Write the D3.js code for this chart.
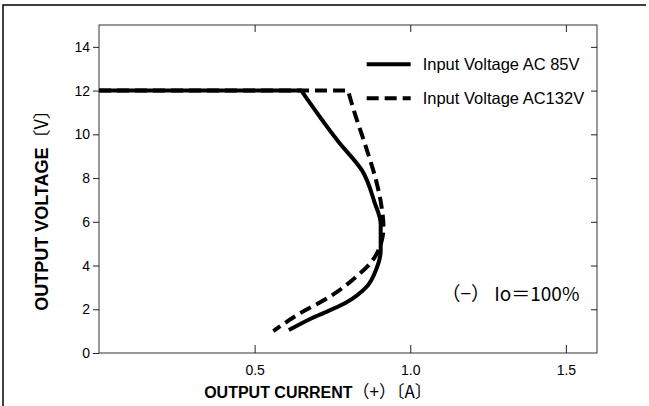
<!DOCTYPE html>
<html>
<head>
<meta charset="utf-8">
<script src="https://cdn.jsdelivr.net/npm/d3@7"></script>
<style>
  body { margin: 0; background: #fff; }
  text { font-family: "Liberation Sans", Arial, sans-serif; fill: #000; }
</style>
</head>
<body>
<div id="chart"></div>
<script>
// data
let xTicks = [0.5, 1.0, 1.5]
let xTickLabels = ['0.5', '1.0', '1.5']
let yTicks = [0, 2, 4, 6, 8, 10, 12, 14]

let ac85Current = [0, 0.65, 0.77, 0.845, 0.885, 0.905, 0.905, 0.89, 0.858, 0.79, 0.685, 0.61]
let ac85Voltage = [12, 12, 9.65, 8.35, 6.9, 5.9, 4.7, 3.8, 3.0, 2.27, 1.6, 1.05]

let ac132Current = [0, 0.8, 0.822, 0.858, 0.89, 0.906, 0.914, 0.906, 0.879, 0.826, 0.74, 0.644, 0.56]
let ac132Voltage = [12, 12, 10.95, 9.4, 7.9, 6.85, 5.75, 5.0, 4.24, 3.48, 2.56, 1.8, 1.0]

let legendLabels = ['Input Voltage  AC 85V', 'Input Voltage AC132V']

// Set up margin/height/width
let svgWidth = 649
let svgHeight = 406
let margin = { top: 25, left: 99, right: 52, bottom: 53 }
let width = svgWidth - margin.left - margin.right
let height = svgHeight - margin.top - margin.bottom

let svg = d3.select('#chart')
  .append('svg')
  .attr('width', svgWidth)
  .attr('height', svgHeight)

// outer frame (top + left)
svg.append('path')
  .attr('d', `M3,${svgHeight} L3,5 L646,5`)
  .attr('fill', 'none')
  .attr('stroke', '#000')
  .attr('stroke-width', 1.5)

let g = svg.append('g')
  .attr('transform', `translate(${margin.left},${margin.top})`)

let xPositionScale = d3.scaleLinear().domain([0, 1.6]).range([0, width])
let yPositionScale = d3.scaleLinear().domain([0, 15]).range([height, 0])

// plot box
g.append('rect')
  .attr('width', width)
  .attr('height', height)
  .attr('fill', 'none')
  .attr('stroke', '#333')
  .attr('stroke-width', 1)

// axes
let xAxis = d3.axisBottom(xPositionScale)
  .tickValues(xTicks)
  .tickFormat((d, i) => xTickLabels[i])
  .tickSizeInner(-8)
  .tickSizeOuter(0)
  .tickPadding(12)

g.append('g')
  .attr('class', 'axis x-axis')
  .attr('transform', `translate(0,${height})`)
  .call(xAxis)

let xAxisTop = d3.axisTop(xPositionScale)
  .tickValues(xTicks)
  .tickFormat('')
  .tickSizeInner(-7)
  .tickSizeOuter(0)

g.append('g')
  .attr('class', 'axis')
  .call(xAxisTop)

let yAxis = d3.axisLeft(yPositionScale)
  .tickValues(yTicks)
  .tickSizeInner(6)
  .tickSizeOuter(0)
  .tickPadding(3)

g.append('g')
  .attr('class', 'axis y-axis')
  .call(yAxis)

let yAxisRight = d3.axisRight(yPositionScale)
  .tickValues(yTicks.filter(d => d > 0))
  .tickFormat('')
  .tickSizeInner(-6)
  .tickSizeOuter(0)

g.append('g')
  .attr('class', 'axis')
  .attr('transform', `translate(${width},0)`)
  .call(yAxisRight)

g.selectAll('.axis .domain').remove()
g.selectAll('.axis line').attr('stroke', '#222').attr('stroke-width', 1)
g.selectAll('.axis text')
  .attr('font-size', 14)
  .attr('fill', '#000')
  .style('font-family', '"Liberation Sans", Arial, sans-serif')

// curves: straight 12V plateau, then a smooth fold-back bend
let flat = d3.line()
  .x(d => xPositionScale(d[0]))
  .y(d => yPositionScale(d[1]))

let bend = d3.line()
  .x(d => xPositionScale(d[0]))
  .y(d => yPositionScale(d[1]))
  .curve(d3.curveMonotoneY)

function curvePath(points) {
  return flat(points.slice(0, 2)) + bend(points.slice(1)).replace(/^M[^CL]*/, '')
}

let ac132 = ac132Current.map((c, i) => [c, ac132Voltage[i]])
let ac85 = ac85Current.map((c, i) => [c, ac85Voltage[i]])

g.append('path')
  .attr('d', curvePath(ac132))
  .attr('fill', 'none')
  .attr('stroke', '#000')
  .attr('stroke-width', 4)
  .attr('stroke-dasharray', '12,6')

g.append('path')
  .attr('d', curvePath(ac85))
  .attr('fill', 'none')
  .attr('stroke', '#000')
  .attr('stroke-width', 4)
  .attr('stroke-linejoin', 'round')

// legend
let legend = g.append('g')
  .attr('transform', `translate(${xPositionScale(0.86)},${yPositionScale(13.2)})`)

legendLabels.forEach((label, i) => {
  legend.append('line')
    .attr('x1', 0)
    .attr('x2', 44)
    .attr('y1', i * 34)
    .attr('y2', i * 34)
    .attr('stroke', '#000')
    .attr('stroke-width', 4)
    .attr('stroke-dasharray', i === 0 ? null : '12,6')
  legend.append('text')
    .text(label)
    .attr('x', 56)
    .attr('y', i * 34)
    .attr('dy', '0.35em')
    .attr('font-size', 16.5)
})

// note
g.append('text')
  .text('（−） Io＝100%')
  .attr('x', xPositionScale(1.1))
  .attr('y', yPositionScale(2.4))
  .attr('font-size', 19)
  .style('font-family', '"Noto Sans CJK JP", "Liberation Sans", sans-serif')

// axis titles
let yTitle = svg.append('text')
  .attr('transform', `translate(42,206) rotate(-90)`)
  .attr('text-anchor', 'middle')
  .attr('dy', '0.35em')
  .attr('font-size', 18)

yTitle.append('tspan').attr('font-weight', 'bold').text('OUTPUT VOLTAGE')
yTitle.append('tspan')
  .style('font-family', '"Noto Sans CJK JP", sans-serif')
  .attr('font-size', 18)
  .text('〔V〕')

let xTitle = svg.append('text')
  .attr('x', 318)
  .attr('y', 398)
  .attr('text-anchor', 'middle')
  .attr('font-size', 16)

xTitle.append('tspan').attr('font-weight', 'bold').text('OUTPUT CURRENT')
xTitle.append('tspan')
  .style('font-family', '"Noto Sans CJK JP", sans-serif')
  .attr('font-size', 17)
  .text('（+）〔A〕')
</script>
</body>
</html>
